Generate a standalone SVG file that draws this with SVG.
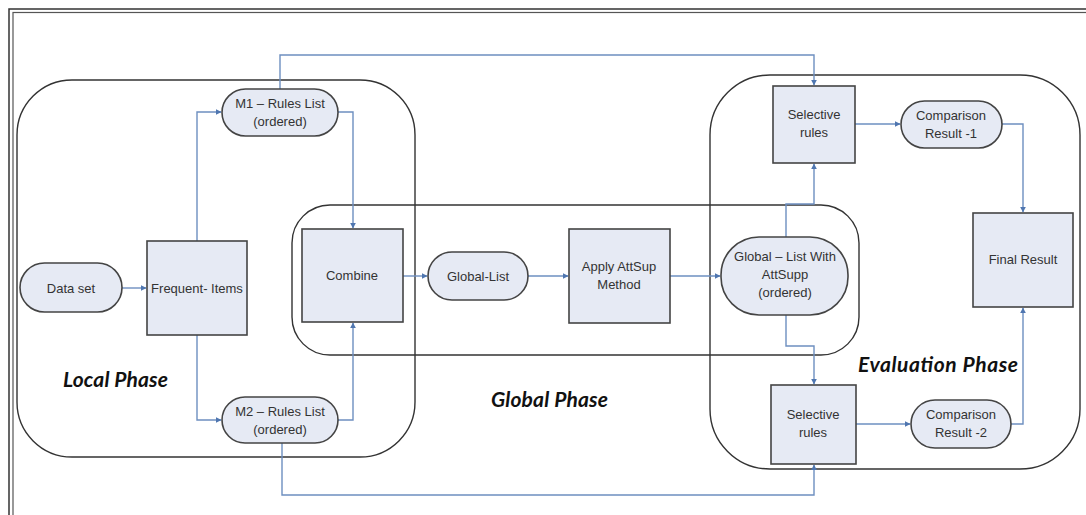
<svg xmlns="http://www.w3.org/2000/svg" width="1086" height="515" viewBox="0 0 1086 515">
<defs>
<marker id="arr" viewBox="0 0 10 10" refX="9" refY="5" markerWidth="6" markerHeight="6" orient="auto" markerUnits="userSpaceOnUse">
<path d="M0,0 L10,5 L0,10 z" fill="#4f76b0"/>
</marker>
<style>
.node{fill:#e6eaf4;stroke:#444;stroke-width:1.6}
.phase{fill:none;stroke:#333;stroke-width:1.4}
.t{font-family:"Liberation Sans",Arial,sans-serif;font-size:13px;fill:#333;text-anchor:middle}
.ph{font-family:Lato,"Open Sans",sans-serif;font-size:21px;font-weight:bold;font-style:italic;fill:#111}
.c{fill:none;stroke:#6d8fc0;stroke-width:1.4;marker-end:url(#arr)}
</style>
</defs>
<rect width="1086" height="515" fill="#fff"/>
<g id="frame">
<rect x="9" y="9" width="1090" height="520" fill="none" stroke="#333" stroke-width="1.5"/>
<rect x="13" y="12.5" width="1090" height="520" fill="none" stroke="#555" stroke-width="1.2"/>
</g>
<g id="phases">
<rect id="local-phase" class="phase" x="17" y="80" width="398" height="377" rx="55" ry="55"/>
<rect id="global-phase" class="phase" x="292" y="205" width="567" height="150" rx="38" ry="38"/>
<rect id="evaluation-phase" class="phase" x="710" y="75" width="370" height="394" rx="60" ry="60"/>
<text class="ph" x="63" y="387" textLength="105">Local Phase</text>
<text class="ph" x="491" y="407" textLength="117">Global Phase</text>
<text class="ph" x="858" y="372" textLength="160">Evaluation Phase</text>
</g>
<g id="connectors">
<path class="c" d="M122,288 H146"/>
<path class="c" d="M197,241 V112 H221"/>
<path class="c" d="M197,335 V420 H221"/>
<path class="c" d="M338,112 H353 V228"/>
<path class="c" d="M338,420 H353 V323"/>
<path class="c" d="M280,89 V55 H814 V85"/>
<path class="c" d="M282,443 V495 H814 V465"/>
<path class="c" d="M403,276 H427"/>
<path class="c" d="M528,276 H568"/>
<path class="c" d="M670,276 H720"/>
<path class="c" d="M786,237 V204 H814 V164"/>
<path class="c" d="M786,315 V346 H814 V384"/>
<path class="c" d="M855,124 H900"/>
<path class="c" d="M1002,124 H1023 V212"/>
<path class="c" d="M856,424 H910"/>
<path class="c" d="M1011,424 H1023 V308"/>
</g>
<g id="data-set">
<rect class="node" x="20" y="263" width="102" height="49" rx="24.5"/>
<text class="t" x="71" y="293">Data set</text>
</g>
<g id="frequent-items">
<rect class="node" x="147" y="241" width="100" height="94"/>
<text class="t" x="197" y="293">Frequent- Items</text>
</g>
<g id="m1-rules">
<rect class="node" x="222" y="89" width="116" height="47" rx="23.5"/>
<text class="t" x="280" y="108">M1 – Rules List</text>
<text class="t" x="280" y="126">(ordered)</text>
</g>
<g id="m2-rules">
<rect class="node" x="222" y="397" width="116" height="46" rx="23"/>
<text class="t" x="280" y="416">M2 – Rules List</text>
<text class="t" x="280" y="434">(ordered)</text>
</g>
<g id="combine">
<rect class="node" x="302" y="229" width="101" height="93"/>
<text class="t" x="352" y="280">Combine</text>
</g>
<g id="global-list">
<rect class="node" x="428" y="252" width="100" height="48" rx="24"/>
<text class="t" x="478" y="281">Global-List</text>
</g>
<g id="apply-attsup">
<rect class="node" x="569" y="229" width="101" height="94"/>
<text class="t" x="619" y="271">Apply AttSup</text>
<text class="t" x="619" y="289">Method</text>
</g>
<g id="global-list-attsupp">
<rect class="node" x="721" y="237" width="127" height="78" rx="38"/>
<text class="t" x="785" y="261">Global – List With</text>
<text class="t" x="785" y="279">AttSupp</text>
<text class="t" x="785" y="297">(ordered)</text>
</g>
<g id="selective-rules-1">
<rect class="node" x="773" y="86" width="82" height="77"/>
<text class="t" x="814" y="119">Selective</text>
<text class="t" x="814" y="137">rules</text>
</g>
<g id="comparison-1">
<rect class="node" x="901" y="101" width="101" height="47" rx="23.5"/>
<text class="t" x="951" y="120">Comparison</text>
<text class="t" x="951" y="138">Result -1</text>
</g>
<g id="final-result">
<rect class="node" x="973" y="213" width="100" height="94"/>
<text class="t" x="1023" y="264">Final Result</text>
</g>
<g id="selective-rules-2">
<rect class="node" x="771" y="385" width="85" height="79"/>
<text class="t" x="813" y="419">Selective</text>
<text class="t" x="813" y="437">rules</text>
</g>
<g id="comparison-2">
<rect class="node" x="911" y="400" width="100" height="48" rx="24"/>
<text class="t" x="961" y="419">Comparison</text>
<text class="t" x="961" y="437">Result -2</text>
</g>
</svg>
